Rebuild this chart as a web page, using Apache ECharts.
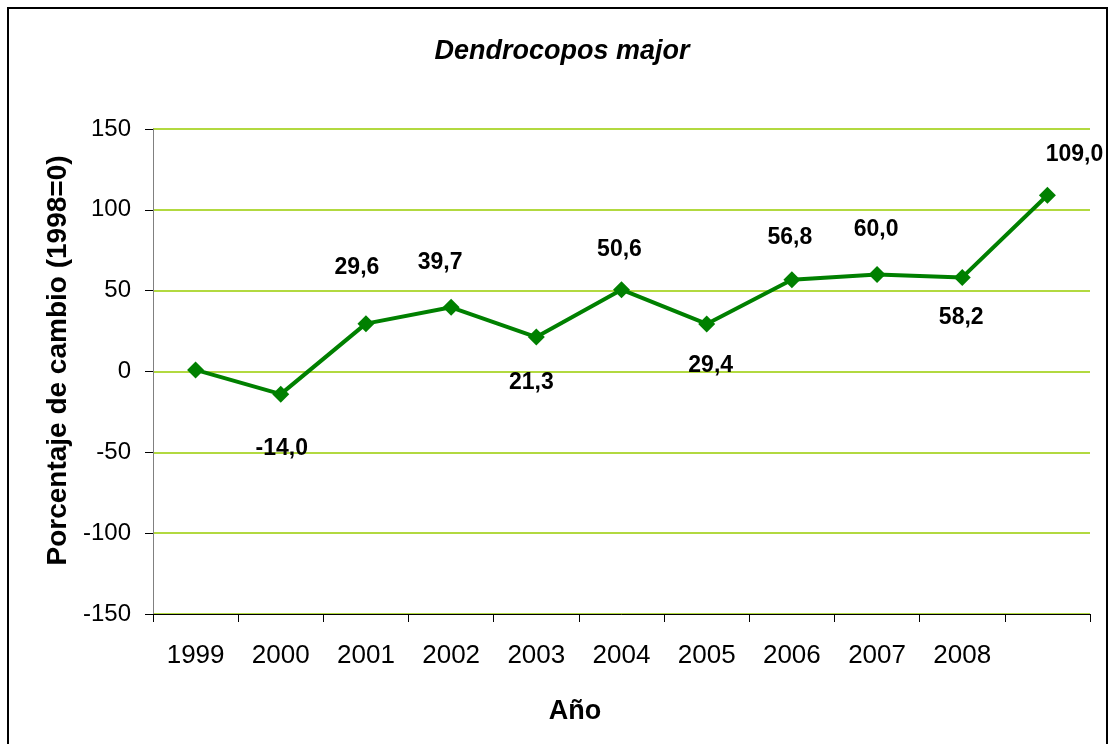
<!DOCTYPE html>
<html>
<head>
<meta charset="utf-8">
<script src="https://cdn.jsdelivr.net/npm/echarts@6/dist/echarts.min.js"></script>
<style>
html,body{margin:0;padding:0;background:#fff;}
#chart{width:1112px;height:744px;}
</style>
</head>
<body>
<div id="chart"></div>
<script>
// Data
const categories = ['1999','2000','2001','2002','2003','2004','2005','2006','2007','2008',''];
const values = [1, -14.0, 29.6, 39.7, 21.3, 50.6, 29.4, 56.8, 60.0, 58.2, 109.0];
const labelTexts = ['', '-14,0', '29,6', '39,7', '21,3', '50,6', '29,4', '56,8', '60,0', '58,2', '109,0'];
const yTicks = [-150, -100, -50, 0, 50, 100, 150];

// Label placement (styling only)
const labelPlace = ['top','bottom','top','top','bottom','top','bottom','top','top','bottom','top'];
const labelShift = [[0,0],[1,11],[-9,-13],[-11,-2],[-5,2],[-2,3],[4,-2],[-2,1],[-1,-2],[-1,-4],[27,2]];

const chart = echarts.init(document.getElementById('chart'));
const font = 'Liberation Sans, Arial, sans-serif';

const seriesData = values.map((v, i) => ({
  value: v,
  label: {
    show: labelTexts[i] !== '',
    position: labelPlace[i],
    distance: labelPlace[i] === 'top' ? 23 : 24,
    offset: labelShift[i],
    formatter: () => labelTexts[i]
  }
}));

chart.setOption({
  animation: false,
  backgroundColor: '#ffffff',
  title: [{
    text: 'Dendrocopos major',
    left: 557, top: 33, textAlign: 'center',
    textStyle: {fontFamily: font, fontSize: 27, fontWeight: 'bold', fontStyle: 'italic', color: '#000'}
  }, {
    text: 'Año',
    left: 570, top: 693, textAlign: 'center',
    textStyle: {fontFamily: font, fontSize: 27, fontWeight: 'bold', color: '#000'}
  }],
  graphic: [{
    type: 'rect',
    shape: {x: 8, y: 8, width: 1099, height: 760},
    style: {fill: 'none', stroke: '#000', lineWidth: 2},
    silent: true
  }],
  grid: {left: 153, right: 22, top: 129, bottom: 130},
  xAxis: {
    type: 'category',
    data: categories,
    boundaryGap: true,
    axisLine: {onZero: false, lineStyle: {color: '#000', width: 1}},
    axisTick: {show: true, length: 8, lineStyle: {color: '#000'}, alignWithLabel: false},
    axisLabel: {fontFamily: font, fontSize: 26, color: '#000', margin: 29, interval: 0},
    splitLine: {show: false}
  },
  yAxis: {
    type: 'value',
    min: yTicks[0], max: yTicks[yTicks.length - 1], interval: 50,
    name: 'Porcentaje de cambio (1998=0)',
    nameLocation: 'middle', nameGap: 67, nameRotate: 90,
    nameTextStyle: {fontFamily: font, fontSize: 28, fontWeight: 'bold', color: '#000', padding: [0, 0, 0, 22]},
    axisLine: {show: true, lineStyle: {color: '#808080', width: 1}},
    axisTick: {show: true, length: 8, lineStyle: {color: '#000'}},
    axisLabel: {fontFamily: font, fontSize: 24, color: '#000', margin: 22},
    splitLine: {show: true, lineStyle: {color: '#99cc00', width: 1.5}}
  },
  series: [{
    type: 'line',
    data: seriesData,
    symbol: 'diamond',
    symbolSize: 17,
    showAllSymbol: true,
    lineStyle: {color: '#008000', width: 4},
    itemStyle: {color: '#008000'},
    label: {fontFamily: font, fontSize: 23, fontWeight: 'bold', color: '#000'},
    z: 3
  }]
});
</script>
</body>
</html>
